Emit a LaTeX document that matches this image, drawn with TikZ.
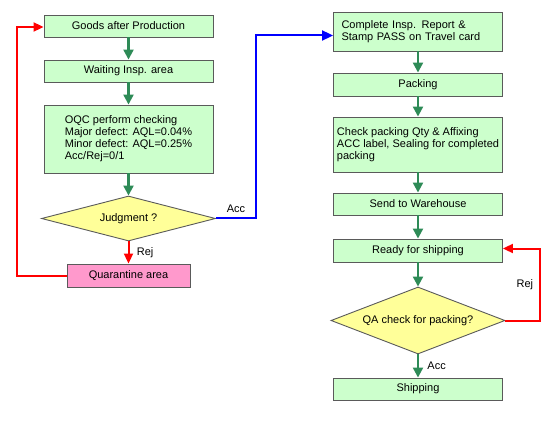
\documentclass[tikz,border=0pt]{standalone}
\usepackage{fontspec}
\setmainfont{Liberation Sans}
\usetikzlibrary{shapes.geometric,arrows.meta}
\definecolor{stepfill}{RGB}{204,255,204}
\definecolor{askfill}{RGB}{255,255,153}
\definecolor{holdfill}{RGB}{255,153,204}
\definecolor{rimgray}{RGB}{90,90,90}
\definecolor{flowgreen}{RGB}{46,139,87}
\begin{document}
\begin{tikzpicture}[x=1pt,y=-1pt,
    every node/.style={font=\fontsize{11}{12}\selectfont},
    stepbox/.style={draw=rimgray,fill=stepfill,line width=0.9pt,minimum width=169pt,minimum height=22pt,inner sep=1pt,align=left},
    askbox/.style={draw=rimgray,fill=askfill,line width=0.9pt,shape=diamond,aspect=3.5,inner sep=0pt,minimum width=174pt},
    holdbox/.style={draw=rimgray,fill=holdfill,line width=0.9pt,minimum width=123pt,minimum height=23pt,inner sep=1pt},
    flow/.style={draw=flowgreen,line width=2.2pt,-{Triangle[length=10pt,width=10pt]}},
    rejflow/.style={draw=red,line width=2pt,-{Triangle[length=10pt,width=9pt]}},
    accflow/.style={draw=blue,line width=2pt,-{Triangle[length=11pt,width=10pt]}}]
  \useasboundingbox (0,0) rectangle (560,425);
  % left column
  \node[stepbox] (goods) at (128.5,26) {Goods after Production};
  \node[stepbox] (wait) at (128.5,71) {Waiting Insp. area};
  \node[stepbox,minimum height=68pt] (oqc) at (128.5,139)
    {OQC perform checking\\Major defect: AQL=0.04\%\\Minor defect: AQL=0.25\%\\Acc/Rej=0/1};
  \node[askbox,minimum height=45pt] (judge) at (128.5,218.5) {Judgment ?};
  \node[holdbox] (quar) at (128.5,275.5) {Quarantine area};
  % right column
  \node[stepbox,minimum height=39pt,text width=153pt] (report) at (418,31.5)
    {Complete Insp. Report \&\\Stamp PASS on Travel card};
  \node[stepbox,minimum height=23pt] (pack) at (418,84.5) {Packing};
  \node[stepbox,minimum height=55pt] (label) at (418,144.5)
    {Check packing Qty \& Affixing\\ACC label, Sealing for completed\\packing};
  \node[stepbox] (store) at (418,204) {Send to Warehouse};
  \node[stepbox,minimum height=23pt] (ready) at (418,250.5) {Ready for shipping};
  \node[askbox,minimum height=67pt] (qa) at (418,320.5) {QA check for packing?};
  \node[stepbox] (ship) at (418,389) {Shipping};
  % connectors
  \draw[flow] (goods) to (wait);
  \draw[flow] (wait) to (oqc);
  \draw[flow] (oqc) to (judge);
  \draw[rejflow] (judge) to node[right=4pt,black] {Rej} (quar);
  \draw[rejflow] (quar.west) -- ++(-50,0) |- ([yshift=-1pt]goods.west);
  \draw[accflow] (judge.east) -- node[above=2pt,black] {Acc} ++(40,0) |- ([yshift=-4pt]report.west);
  \draw[flow] (report) to (pack);
  \draw[flow] (pack) to (label);
  \draw[flow] (label) to (store);
  \draw[flow] (store) to (ready);
  \draw[flow] (ready) to (qa);
  \draw[flow] (qa) to node[right=5pt,black] {Acc} (ship);
  \draw[rejflow] (qa.east) -- ++(35,0) |- node[pos=0.25,left=3pt,black] {Rej} ([yshift=2pt]ready.east);
\end{tikzpicture}
\end{document}
